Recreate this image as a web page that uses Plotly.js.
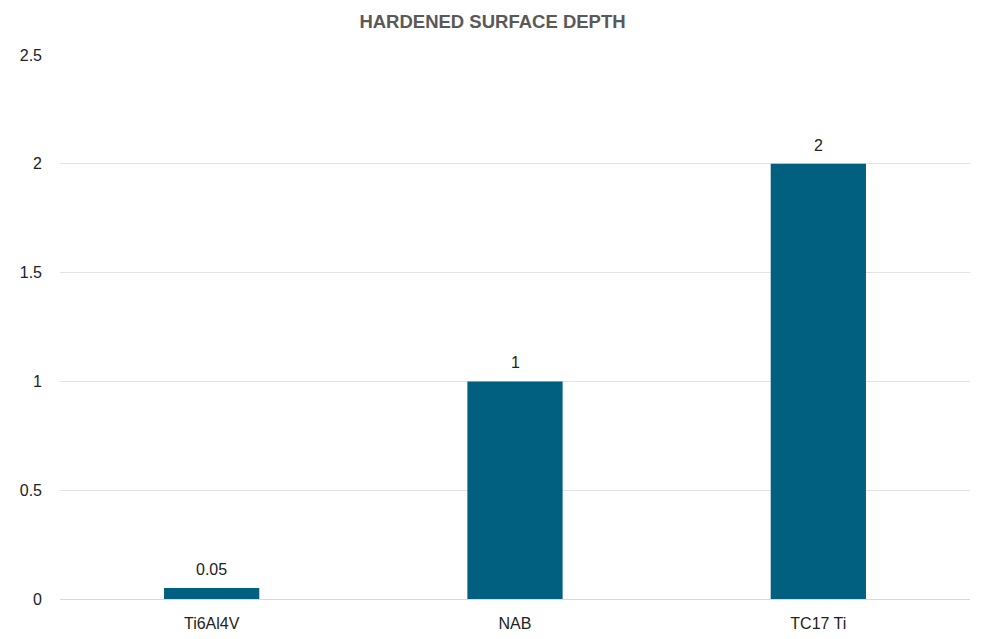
<!DOCTYPE html>
<html>
<head>
<meta charset="utf-8">
<script src="https://cdn.plot.ly/plotly-3.0.1.min.js"></script>
<style>
  html, body { margin: 0; padding: 0; background: #fff; }
  #chart { width: 985px; height: 639px; }
</style>
</head>
<body>
<div id="chart"></div>
<script>
// materials and their hardened depth
const materials = ["Ti6Al4V", "NAB", "TC17 Ti"];
const depths = [0.05, 1, 2];
const depthLabels = ["0.05", "1", "2"];
const yTicks = [0, 0.5, 1, 1.5, 2, 2.5];
const yTickText = ["0", "0.5", "1", "1.5", "2", "2.5"];

const FONT = "Liberation Sans, Arial, sans-serif";

const barTrace = {
  type: "bar",
  x: materials,
  y: depths,
  marker: { color: "#015F80" },
  hoverinfo: "none"
};

// value labels sit a bit higher than plotly's own "outside" text
const valueLabels = materials.map((m, i) => ({
  x: m,
  y: depths[i],
  xref: "x",
  yref: "y",
  text: depthLabels[i],
  showarrow: false,
  yanchor: "bottom",
  yshift: 8,
  font: { size: 16, color: "#222", family: FONT }
}));

const layout = {
  width: 985,
  height: 639,
  paper_bgcolor: "#fff",
  plot_bgcolor: "#fff",
  margin: { t: 55, b: 40, l: 60, r: 15 },
  bargap: 0.686,
  showlegend: false,
  annotations: valueLabels,
  title: {
    text: "<b>HARDENED SURFACE DEPTH</b>",
    x: 0.5,
    xanchor: "center",
    y: 0.966,
    yanchor: "middle",
    font: { size: 18.5, color: "#595959", family: FONT }
  },
  xaxis: {
    showline: true,
    linecolor: "#d9d9d9",
    linewidth: 1,
    ticks: "",
    ticklabelstandoff: 10,
    tickfont: { size: 16, color: "#222", family: FONT }
  },
  yaxis: {
    range: [0, 2.5],
    tickvals: yTicks,
    ticktext: yTickText,
    showgrid: true,
    gridcolor: "#e3e3e3",
    gridwidth: 1,
    zeroline: false,
    ticks: "",
    ticklabelstandoff: 17,
    tickfont: { size: 16, color: "#222", family: FONT }
  }
};

Plotly.newPlot("chart", [barTrace], layout, { displayModeBar: false, staticPlot: true });
</script>
</body>
</html>
